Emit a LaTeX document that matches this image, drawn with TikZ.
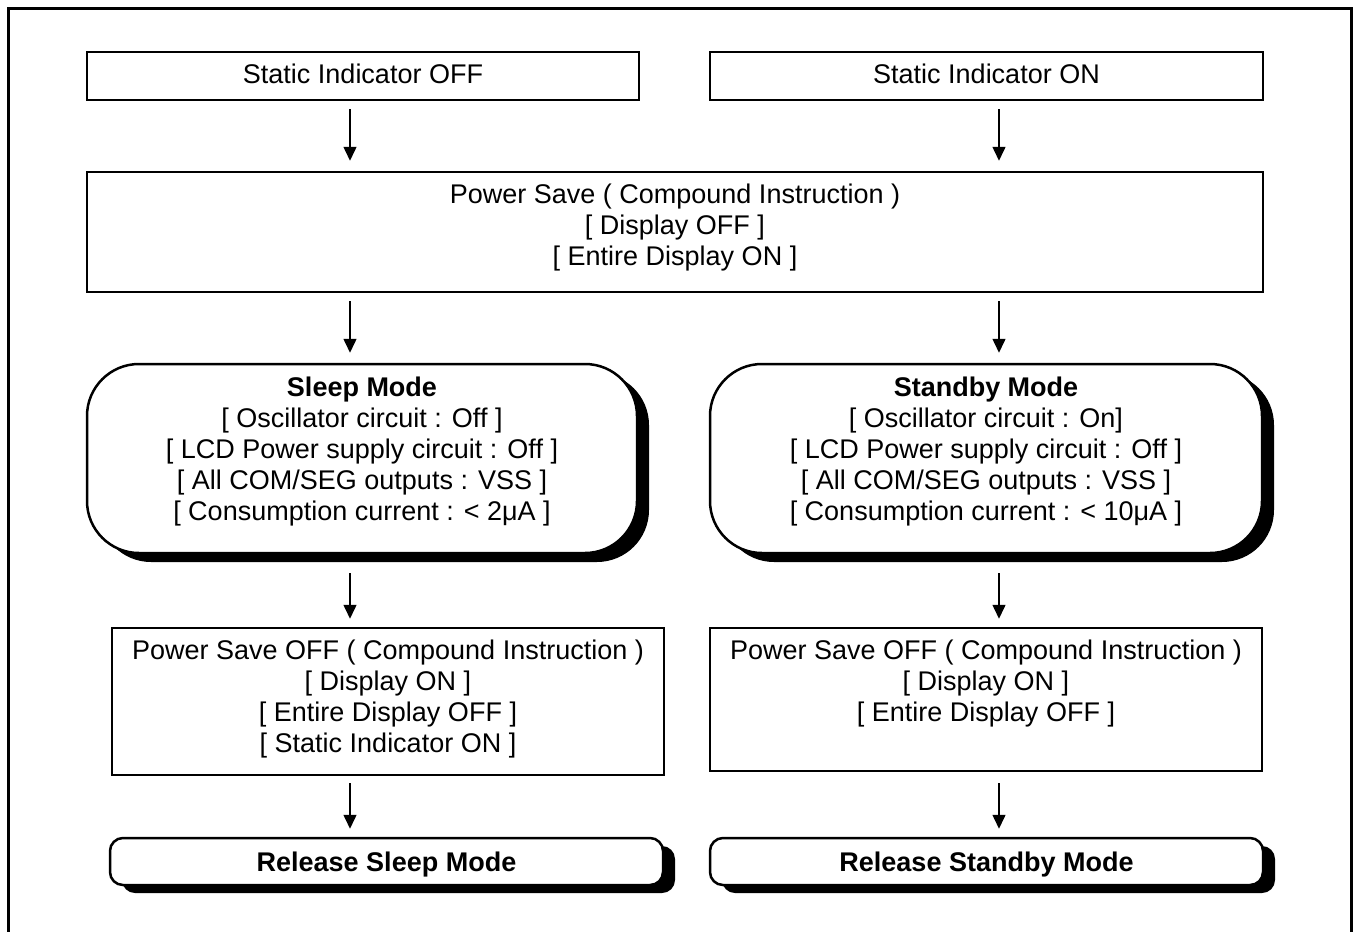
\documentclass[tikz,border=0pt]{standalone}
\usepackage{fontspec}
\setmainfont{Liberation Sans}
\usetikzlibrary{arrows.meta,shadows}
\begin{document}
\begin{tikzpicture}[x=1pt,y=-1pt,
  every node/.style={font=\fontsize{27}{31}\selectfont, align=center, inner sep=0pt},
  sqbox/.style={draw, line width=2.5pt, rectangle},
  biground/.style={draw, line width=2.5pt, fill=white, rounded corners=52pt,
     drop shadow={shadow xshift=12pt, shadow yshift=-9pt, fill=black, opacity=1}},
  smallround/.style={draw, line width=2.5pt, fill=white, rounded corners=13pt,
     drop shadow={shadow xshift=12pt, shadow yshift=-8pt, fill=black, opacity=1}},
  arr/.style={line width=1.5pt, -{Triangle[length=14pt,width=13pt]}}
]
\useasboundingbox (0,0) rectangle (1353,932);
\fill[white] (0,0) rectangle (1353,932);
\draw[line width=3pt] (8,945) -- (8,8) -- (1351,8) -- (1351,945);

\coordinate (xl) at (350,0);
\coordinate (xr) at (999,0);

\node[sqbox, minimum width=552pt, minimum height=48pt] (soff) at (363,76) {Static Indicator OFF\rule[-4pt]{0pt}{0pt}};
\node[sqbox, minimum width=553pt, minimum height=48pt] (son) at (986.5,76) {Static Indicator ON\rule[-4pt]{0pt}{0pt}};

\node[sqbox, minimum width=1176pt, minimum height=120pt] (ps) at (675,232)
  {Power Save ( Compound Instruction )\\{[} Display OFF ]\\{[} Entire Display ON ]\rule[-14pt]{0pt}{0pt}};

\node[biground, minimum width=550pt, minimum height=189pt] (sleep) at (362,458.5)
  {\textbf{Sleep Mode}\\{[} Oscillator circuit : Off ]\\{[} LCD Power supply circuit : Off ]\\{[} All COM/SEG outputs : VSS ]\\{[} Consumption current : < 2μA ]\rule[-19pt]{0pt}{0pt}};
\node[biground, minimum width=552pt, minimum height=189pt] (stby) at (986,458.5)
  {\textbf{Standby Mode}\\{[} Oscillator circuit : On]\\{[} LCD Power supply circuit : Off ]\\{[} All COM/SEG outputs : VSS ]\\{[} Consumption current : < 10μA ]\rule[-19pt]{0pt}{0pt}};

\node[sqbox, minimum width=552pt, minimum height=147pt] (psol) at (388,701.5)
  {Power Save OFF ( Compound Instruction )\\{[} Display ON ]\\{[} Entire Display OFF ]\\{[} Static Indicator ON ]\rule[-11pt]{0pt}{0pt}};
\node[sqbox, minimum width=552pt, minimum height=143pt] (psor) at (986,699.5)
  {Power Save OFF ( Compound Instruction )\\{[} Display ON ]\\{[} Entire Display OFF ]\rule[-38pt]{0pt}{0pt}};

\node[smallround, minimum width=553pt, minimum height=47pt] (rell) at (386.5,861.5) {\rule{0pt}{26pt}\textbf{Release Sleep Mode}};
\node[smallround, minimum width=553pt, minimum height=47pt] (relr) at (986.5,861.5) {\rule{0pt}{26pt}\textbf{Release Standby Mode}};

\draw[arr, shorten <=8pt, shorten >=10pt] (soff.south -| xl) -- (ps.north -| xl);
\draw[arr, shorten <=8pt, shorten >=10pt] (son.south -| xr) -- (ps.north -| xr);
\draw[arr, shorten <=8pt, shorten >=10pt] (ps.south -| xl) -- (sleep.north -| xl);
\draw[arr, shorten <=8pt, shorten >=10pt] (ps.south -| xr) -- (stby.north -| xr);
\draw[arr, shorten <=19pt, shorten >=8pt] (sleep.south -| xl) -- (psol.north -| xl);
\draw[arr, shorten <=19pt, shorten >=8pt] (stby.south -| xr) -- (psor.north -| xr);
\draw[arr, shorten <=7pt, shorten >=8pt] (psol.south -| xl) -- (rell.north -| xl);
\draw[arr, shorten <=11pt, shorten >=8pt] (psor.south -| xr) -- (relr.north -| xr);
\end{tikzpicture}
\end{document}
